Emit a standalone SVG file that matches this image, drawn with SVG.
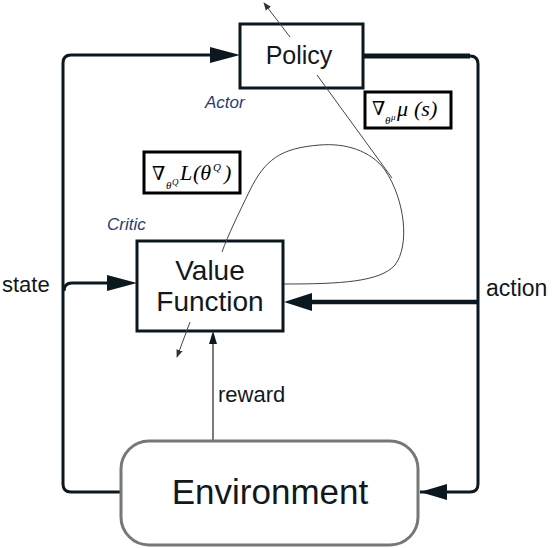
<svg xmlns="http://www.w3.org/2000/svg" width="554" height="548" viewBox="0 0 554 548">
<style>
.box{fill:#fff;stroke:#0b1820;stroke-width:3}
.lbl{font-family:"Liberation Sans",Arial,sans-serif;fill:#111820}
.it{font-family:"Liberation Sans",Arial,sans-serif;font-style:italic;fill:#1f3d7a;font-size:17px}
.fm{font-family:"Liberation Serif","Times New Roman",serif;font-style:italic;fill:#000;font-size:22px}
.nb{font-family:"DejaVu Serif","DejaVu Sans",serif;font-style:normal;fill:#000;font-size:19px}
.sub{font-size:11px}
.sup{font-size:9px}
.thick{fill:none;stroke:#0b1820;stroke-linecap:butt}
.thin{fill:none;stroke:#444;stroke-width:1}
.ah{fill:#0b1820}
</style>
<defs>
<marker id="sa" viewBox="0 0 10 10" refX="9" refY="5" markerWidth="8" markerHeight="8" markerUnits="userSpaceOnUse" orient="auto">
<path d="M0,1 L10,5 L0,9 Z" fill="#333"/>
</marker>
</defs>
<rect width="554" height="548" fill="#fff"/>
<g id="connectors">
<path class="thick" stroke-width="3" d="M420,492 H470 Q478,492 478,484 V64 Q478,56 470,56 H440"/>
<path class="thick" stroke-width="5" d="M363,56 H470"/>
<polygon class="ah" points="420,492 447,484 447,500"/>
<path class="thick" stroke-width="4.5" d="M478,302 H310"/>
<polygon class="ah" points="284,302 312,293 312,311"/>
<path class="thick" stroke-width="3" d="M120,492 H71 Q63,492 63,484 V63 Q63,55 71,55 H212"/>
<polygon class="ah" points="240,55 210,47 210,63"/>
<path class="thick" stroke-width="3" d="M64,291 Q64,283 72,283 H110"/>
<polygon class="ah" points="137,283 107,275 107,291"/>
<path fill="none" stroke="#222" stroke-width="1.2" d="M213,440 V340"/>
<polygon class="ah" points="213,331 209,344 217,344"/>
</g>
<g id="policy">
<rect class="box" x="240" y="24" width="123" height="64"/>
<text class="lbl" x="299" y="64" font-size="25" text-anchor="middle">Policy</text>
</g>
<g id="value-function">
<rect class="box" x="137" y="241" width="146" height="90"/>
<text class="lbl" x="210" y="280" font-size="28" text-anchor="middle">Value</text>
<text class="lbl" x="210" y="311" font-size="28" text-anchor="middle">Function</text>
</g>
<g id="environment">
<rect x="121" y="441" width="297" height="104" rx="28" fill="#fff" stroke="#777" stroke-width="3"/>
<text class="lbl" x="270" y="504" font-size="35" text-anchor="middle">Environment</text>
</g>
<g id="gradients">
<path class="thin" d="M290,37 L264,3" marker-end="url(#sa)"/>
<path class="thin" d="M317,75 L392,178"/>
<path class="thin" d="M284,284 C340,284 380,282 395,265 C410,245 405,200 385,170 C370,150 345,143 320,145 C280,148 265,160 250,190 C238,215 228,235 222,252"/>
<path class="thin" d="M190,322 L177,357" marker-end="url(#sa)"/>
</g>
<g id="grad-mu">
<rect x="365" y="92" width="86" height="36" fill="#fff" stroke="#000" stroke-width="3"/>
<text class="nb" x="372" y="115">∇</text>
<text class="fm sub" x="385" y="124">θ</text>
<text class="fm sup" x="391" y="120">μ</text>
<text class="fm" x="397" y="116">μ</text>
<text class="fm" x="414" y="116">(s)</text>
</g>
<g id="grad-L">
<rect x="144" y="152" width="96" height="41" fill="#fff" stroke="#000" stroke-width="3"/>
<text class="nb" x="152" y="180">∇</text>
<text class="fm sub" x="166" y="189">θ</text>
<text class="fm sup" x="172" y="185">Q</text>
<text class="fm" x="180" y="180">L</text>
<text class="fm" x="193" y="180">(θ</text>
<text class="fm sub" x="213" y="171">Q</text>
<text class="fm" x="224" y="180">)</text>
</g>
<g id="labels">
<text class="lbl" x="2" y="292" font-size="22">state</text>
<text class="lbl" x="486" y="296" font-size="23">action</text>
<text class="lbl" x="218" y="402" font-size="22">reward</text>
<text class="it" x="205" y="108">Actor</text>
<text class="it" x="107" y="230">Critic</text>
</g>
</svg>
